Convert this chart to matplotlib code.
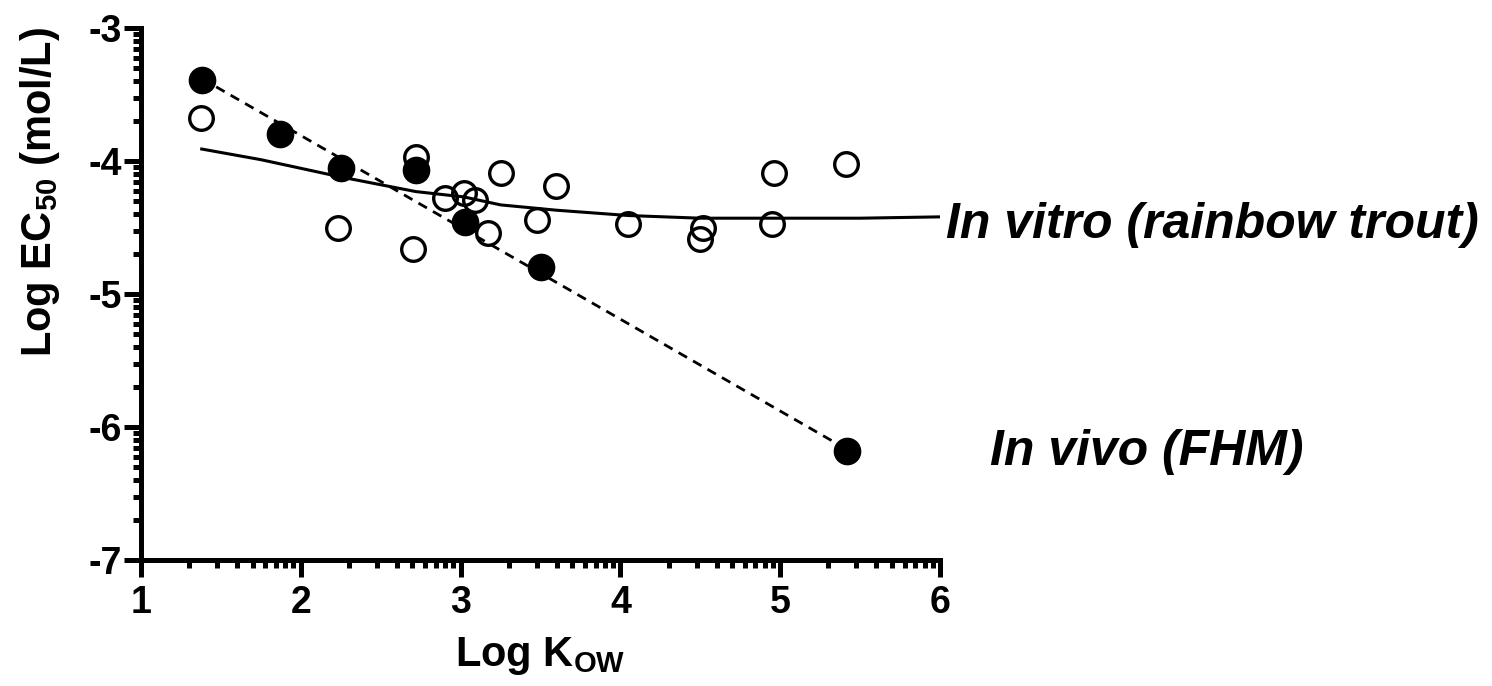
import numpy as np
import matplotlib
matplotlib.use('Agg')
import matplotlib.pyplot as plt

plt.rcParams['font.family'] = ['Liberation Sans', 'DejaVu Sans']
plt.rcParams['font.weight'] = 'bold'
plt.rcParams['mathtext.fontset'] = 'custom'
plt.rcParams['mathtext.rm'] = 'Liberation Sans:bold'
plt.rcParams['mathtext.it'] = 'Liberation Sans:bold'
plt.rcParams['mathtext.bf'] = 'Liberation Sans:bold'
plt.rcParams['mathtext.default'] = 'regular'

# In vitro (rainbow trout), open circles
vitro_x = [1.375, 2.23, 2.72, 2.70, 2.90, 3.02, 3.09, 3.17, 3.25, 3.48, 3.60,
           4.05, 4.50, 4.52, 4.95, 4.96, 5.41]
vitro_y = [-3.68, -4.50, -3.97, -4.66, -4.28, -4.24, -4.29, -4.54, -4.09, -4.44, -4.19,
           -4.47, -4.59, -4.50, -4.47, -4.09, -4.02]

# In vivo (FHM), filled circles
vivo_x = [1.38, 1.87, 2.25, 2.72, 3.03, 3.50, 5.42]
vivo_y = [-3.39, -3.80, -4.05, -4.07, -4.46, -4.80, -6.18]

# fitted curves
vitro_fit_x = [1.38, 1.75, 2.25, 2.72, 3.02, 3.25, 3.60, 4.05, 4.50, 5.00, 5.50, 6.00]
vitro_fit_y = [-3.91, -3.99, -4.12, -4.23, -4.27, -4.33, -4.37, -4.41, -4.43, -4.43, -4.43, -4.42]
vivo_fit_x = [1.38, 5.42]
vivo_fit_y = [-3.38, -6.17]

fig = plt.figure(figsize=(14.92, 6.86), dpi=100)
ax = fig.add_axes([141 / 1492, 1 - 560 / 686, 799 / 1492, 532 / 686])

ax.plot(vitro_x, vitro_y, 'o', ms=17, mfc='none', mec='black', mew=2.4, zorder=3)
ax.plot(vitro_fit_x, vitro_fit_y, '-', color='black', lw=2.2, zorder=2)
ax.plot(vivo_fit_x, vivo_fit_y, color='black', lw=2.0, dashes=(3.5, 2.5), zorder=2)
ax.plot(vivo_x, vivo_y, 'o', ms=17.5, mfc='black', mec='black', mew=2.4, zorder=4)

ax.set_xlim(1, 6)
ax.set_ylim(-7, -3)
ax.set_xticks([1, 2, 3, 4, 5, 6])
ax.set_yticks([-7, -6, -5, -4, -3])
ax.set_yticklabels(['-7', '-6', '-5', '-4', '-3'])

# log-style minor ticks
minor_x = [n + np.log10(k) for n in range(1, 6) for k in range(2, 10)]
minor_y = [n + np.log10(k) for n in range(-7, -3) for k in range(2, 10)]
ax.set_xticks(minor_x, minor=True)
ax.set_yticks(minor_y, minor=True)

for s in ['top', 'right']:
    ax.spines[s].set_visible(False)
for s in ['left', 'bottom']:
    ax.spines[s].set_linewidth(3.6)

ax.tick_params(which='major', direction='out', length=12, width=3.6, labelsize=27)
ax.tick_params(which='minor', direction='out', length=6, width=3.6)
ax.tick_params(axis='y', which='major', pad=2)
ax.tick_params(axis='x', which='major', pad=6)
for lab in ax.get_xticklabels() + ax.get_yticklabels():
    lab.set_fontweight('bold')

ax.set_xlabel('Log K$_{OW}$', fontsize=30, fontweight='bold', labelpad=10)
fig.text(40 / 1492, 1 - 192 / 686, 'Log EC$_{50}$ (mol/L)', rotation=90,
         fontsize=30, fontweight='bold', ha='center', va='center')

ax.text(6.04, -4.48, 'In vitro (rainbow trout)', fontsize=36, fontweight='bold',
        fontstyle='italic', ha='left', va='center', clip_on=False)
ax.text(6.31, -6.19, 'In vivo (FHM)', fontsize=36, fontweight='bold',
        fontstyle='italic', ha='left', va='center', clip_on=False)

fig.savefig('out.png', dpi=100)
